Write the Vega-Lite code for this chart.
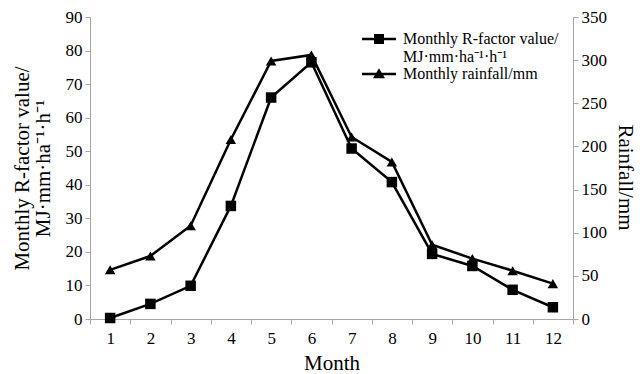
{
  "$schema": "https://vega.github.io/schema/vega-lite/v6.json",
  "width": 483,
  "height": 302,
  "autosize": {"type": "none"},
  "padding": {"left": 90, "top": 17, "right": 71, "bottom": 55},
  "background": "white",
  "config": {
    "view": {"stroke": null},
    "font": "Liberation Serif",
    "axis": {
      "labelFont": "Liberation Serif",
      "titleFont": "Liberation Serif",
      "labelFontSize": 17,
      "titleFontSize": 21,
      "titleFontWeight": "normal",
      "labelColor": "black",
      "titleColor": "black",
      "domainColor": "#a6a6a6",
      "tickColor": "#a6a6a6",
      "tickSize": 5,
      "grid": false
    },
    "legend": {
      "labelFont": "Liberation Serif",
      "labelFontSize": 16,
      "labelColor": "black"
    }
  },
  "data": {
    "values": [
      {"month": 1, "series": "R", "value": 0.3},
      {"month": 2, "series": "R", "value": 4.5},
      {"month": 3, "series": "R", "value": 9.9},
      {"month": 4, "series": "R", "value": 33.7},
      {"month": 5, "series": "R", "value": 66},
      {"month": 6, "series": "R", "value": 76.5},
      {"month": 7, "series": "R", "value": 50.8},
      {"month": 8, "series": "R", "value": 40.8},
      {"month": 9, "series": "R", "value": 19.4},
      {"month": 10, "series": "R", "value": 15.8},
      {"month": 11, "series": "R", "value": 8.7},
      {"month": 12, "series": "R", "value": 3.5},
      {"month": 1, "series": "Rain", "value": 57},
      {"month": 2, "series": "Rain", "value": 73},
      {"month": 3, "series": "Rain", "value": 108},
      {"month": 4, "series": "Rain", "value": 208},
      {"month": 5, "series": "Rain", "value": 299},
      {"month": 6, "series": "Rain", "value": 306},
      {"month": 7, "series": "Rain", "value": 211},
      {"month": 8, "series": "Rain", "value": 182},
      {"month": 9, "series": "Rain", "value": 86},
      {"month": 10, "series": "Rain", "value": 70},
      {"month": 11, "series": "Rain", "value": 56},
      {"month": 12, "series": "Rain", "value": 41}
    ]
  },
  "encoding": {
    "x": {
      "field": "month",
      "type": "ordinal",
      "scale": {"paddingInner": 0, "paddingOuter": 0},
      "axis": {"title": "Month", "labelAngle": 0, "tickBand": "extent", "labelPadding": 6, "titlePadding": 6}
    }
  },
  "layer": [
    {
      "transform": [{"filter": "datum.series == 'R'"}],
      "encoding": {
        "y": {
          "field": "value",
          "type": "quantitative",
          "scale": {"domain": [0, 90]},
          "axis": {
            "orient": "left",
            "values": [0, 10, 20, 30, 40, 50, 60, 70, 80, 90],
            "title": ["Monthly R-factor value/", "MJ·mm·ha⁻¹·h⁻¹"],
            "titleLineHeight": 21,
            "titlePadding": 12,
            "labelPadding": 3
          }
        }
      },
      "layer": [
        {"mark": {"type": "line", "color": "black", "strokeWidth": 2.5}},
        {
          "mark": {"type": "point", "filled": true, "color": "black", "opacity": 1, "size": 110},
          "encoding": {
            "shape": {
              "field": "series",
              "type": "nominal",
              "scale": {"domain": ["R", "Rain"], "range": ["square", "triangle-up"]},
              "legend": null
            }
          }
        }
      ]
    },
    {
      "transform": [{"filter": "datum.series == 'Rain'"}],
      "encoding": {
        "y": {
          "field": "value",
          "type": "quantitative",
          "scale": {"domain": [0, 350]},
          "axis": {
            "orient": "right",
            "values": [0, 50, 100, 150, 200, 250, 300, 350],
            "title": "Rainfall/mm",
            "titlePadding": 8,
            "titleY": 160,
            "labelPadding": 3
          }
        }
      },
      "layer": [
        {"mark": {"type": "line", "color": "black", "strokeWidth": 2.5}},
        {
          "mark": {"type": "point", "filled": true, "color": "black", "opacity": 1, "size": 110},
          "encoding": {
            "shape": {
              "field": "series",
              "type": "nominal",
              "scale": {"domain": ["R", "Rain"], "range": ["square", "triangle-up"]},
              "legend": null
            }
          }
        }
      ]
    },
    {
      "transform": [{"filter": "false"}],
      "mark": {"type": "point", "filled": true, "color": "black", "opacity": 1},
      "encoding": {
        "y": {"field": "value", "type": "quantitative", "axis": null},
        "shape": {
          "field": "series",
          "type": "nominal",
          "scale": {
            "domain": ["R", "Rain"],
            "range": [
              "M-3.4,-0.25H3.4V0.25H-3.4Z M-1,-1H1V1H-1Z",
              "M-3.4,-0.25H3.4V0.25H-3.4Z M0,-1.15L1.2,0.85H-1.2Z"
            ]
          },
          "legend": {
            "title": null,
            "orient": "top-right",
            "offset": 14,
            "symbolSize": 100,
            "symbolFillColor": "black",
            "symbolStrokeWidth": 0,
            "symbolOpacity": 1,
            "labelOffset": 16,
            "labelLimit": 400,
            "rowPadding": 1,
            "labelBaseline": "middle",
            "labelExpr": "datum.value == 'R' ? ['Monthly R-factor value/', 'MJ·mm·ha⁻¹·h⁻¹'] : 'Monthly rainfall/mm'",
            "encode": {
              "labels": {
                "align": {"condition": {"test": "datum.value == 'R'", "value": "center"}, "value": "left"},
                "dx": {"condition": {"test": "datum.value == 'R'", "value": 78}, "value": 0}
              }
            }
          }
        }
      }
    }
  ],
  "resolve": {"scale": {"y": "independent", "shape": "independent"}}
}
